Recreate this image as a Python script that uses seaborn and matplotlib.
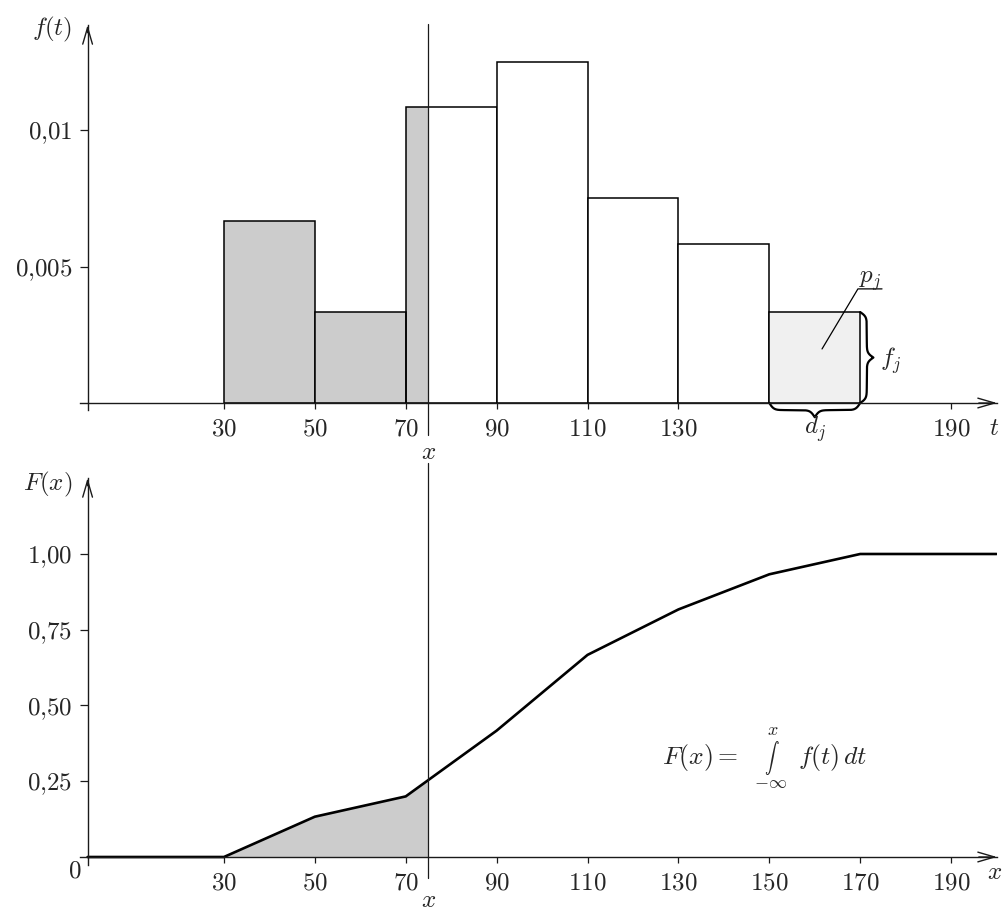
import numpy as np
import matplotlib
matplotlib.use("Agg")
import matplotlib.pyplot as plt
import seaborn as sns

# Class edges and density heights of the histogram (per unit of t)
edges = [30, 50, 70, 90, 110, 130, 150, 170]
density = [0.00667, 0.00333, 0.01083, 0.0125, 0.0075, 0.00583, 0.00333]

# Cumulative distribution F(x) at the class edges (polygon)
cdf_x = [0, 30, 50, 70, 90, 110, 130, 150, 170, 200]
cdf_y = [0, 0, 0.133, 0.2, 0.417, 0.667, 0.817, 0.933, 1.0, 1.0]

# Position of the moving bound x
x_mark = 75

top_xticks = [30, 50, 70, 90, 110, 130, 190]
bot_xticks = [30, 50, 70, 90, 110, 130, 150, 170, 190]
top_yticks = [0.005, 0.01]
top_ylabels = [r"$0{,}005$", r"$0{,}01$"]
bot_yticks = [0.25, 0.5, 0.75, 1.0]
bot_ylabels = [r"$0{,}25$", r"$0{,}50$", r"$0{,}75$", r"$1{,}00$"]

bar_faces = ["#cccccc", "#cccccc", "none", "white", "white", "white", "#f0f0f0"]
GRAY = "#cccccc"
INK = "#1a1a1a"

sns.set_style("white")
plt.rcParams["mathtext.fontset"] = "cm"
plt.rcParams["font.family"] = ["DejaVu Serif"]

W, H = 1004, 911
fig = plt.figure(figsize=(W / 100, H / 100), dpi=100)


def rect(left, top, right, bottom):
    return [left / W, 1 - bottom / H, (right - left) / W, (bottom - top) / H]


FS = 18


def style_axes(ax, xlim, ylim):
    ax.set_xlim(*xlim)
    ax.set_ylim(*ylim)
    ax.set_xlabel("")
    ax.set_ylabel("")
    for side in ("top", "right"):
        ax.spines[side].set_visible(False)
    ax.spines["left"].set_position(("data", 0))
    ax.spines["bottom"].set_position(("data", 0))
    for side in ("left", "bottom"):
        ax.spines[side].set_color(INK)
        ax.spines[side].set_linewidth(1.0)
    ax.tick_params(axis="x", bottom=True, direction="out", length=4.3,
                   width=0.9, color=INK, pad=6, labelsize=FS)
    ax.tick_params(axis="y", left=True, direction="out", length=5.8,
                   width=0.9, color=INK, pad=5, labelsize=FS)
    arrow = dict(arrowstyle="->, head_length=1.2, head_width=0.35",
                 lw=1.0, color=INK, mutation_scale=10, shrinkA=0, shrinkB=0)
    x0, x1 = xlim
    y0, y1 = ylim
    ax.annotate("", xy=(x1, 0), xytext=(x1 - 4, 0), arrowprops=arrow,
                annotation_clip=False)
    ax.annotate("", xy=(0, y1), xytext=(0, y1 - (y1 - y0) * 0.02),
                arrowprops=arrow, annotation_clip=False)


def brace(n=200, beta=40):
    u = np.linspace(0, 0.5, n)
    half = 1 / (1 + np.exp(-beta * (u - u[0]))) + 1 / (1 + np.exp(-beta * (u - u[-1])))
    full = np.concatenate([half, half[-2::-1]])
    amp = (full - full.min()) / (full.max() - full.min())
    s = np.linspace(0, 1, len(full))
    return s, amp


# ---------- density histogram ----------
ax1 = fig.add_axes(rect(80, 25, 997, 410))
mids = [(a + b) / 2 for a, b in zip(edges[:-1], edges[1:])]
h = np.array(density)
# shaded part of the class containing x
ax1.fill_between([edges[2], x_mark], 0, h[2], color=GRAY, lw=0, zorder=0.5)
sns.histplot(x=mids, weights=density, bins=edges, stat="count", ax=ax1,
             color="white", edgecolor="black", linewidth=1.1, alpha=1)
for patch, face in zip(ax1.patches, bar_faces):
    patch.set_facecolor(face)
    patch.set_edgecolor("black")
    patch.set_linewidth(1.1)

style_axes(ax1, (-1.67, 200.1), (-0.000256, 0.013846))
ax1.set_xticks(top_xticks, [rf"${v}$" for v in top_xticks])
ax1.set_yticks(top_yticks, top_ylabels)
ax1.axvline(x_mark, ymin=-0.065, ymax=1.003, clip_on=False, color=INK, lw=0.9)

ax1.text(-3.3, 0.0137, r"$f(t)$", fontsize=FS, ha="right", va="center")
ax1.text(199.5, -0.00092, r"$t$", fontsize=FS, ha="center", va="center")
ax1.text(x_mark, -0.0018, r"$x$", fontsize=FS, ha="center", va="center")

# braces marking the width d_j and height f_j of the last class
s, amp = brace()
a, b = edges[-2], edges[-1]
ax1.plot(a + s * (b - a), -amp * 0.00052, color="black", lw=1.6,
         clip_on=False, solid_capstyle="round")
ax1.plot(b + amp * 2.9, s * h[-1], color="black", lw=1.6,
         clip_on=False, solid_capstyle="round")
ax1.text((a + b) / 2, -0.00095, r"$d_j$", fontsize=FS, ha="center", va="center")
ax1.text(b + 4.3, h[-1] / 2 - 0.0001, r"$f_j$", fontsize=FS, ha="left", va="center")
ax1.plot([161.6, 169.5, 174.8], [0.00198, 0.00418, 0.00418], color="black",
         lw=0.9, clip_on=False)
ax1.text(172.2, 0.00448, r"$p_j$", fontsize=FS, ha="center", va="center")

# ---------- cumulative distribution ----------
ax2 = fig.add_axes(rect(80, 478, 997, 865))
xf = [edges[0], edges[1], edges[2], x_mark]
yf = np.interp(xf, cdf_x, cdf_y)
ax2.fill_between(xf, 0, yf, color=GRAY, lw=0, zorder=0.5)
sns.lineplot(x=cdf_x, y=cdf_y, ax=ax2, color="black", lw=1.9,
             solid_joinstyle="miter")

style_axes(ax2, (-1.67, 200.1), (-0.0264, 1.2508))
ax2.set_xticks(bot_xticks, [rf"${v}$" for v in bot_xticks])
ax2.set_yticks(bot_yticks, bot_ylabels)
ax2.axvline(x_mark, ymin=-0.034, ymax=1.039, clip_on=False, color=INK, lw=0.9)

ax2.text(-3.3, 1.23, r"$F(x)$", fontsize=FS, ha="right", va="center")
ax2.text(-2.8, -0.047, r"$0$", fontsize=FS, ha="center", va="center")
ax2.text(199.5, -0.05, r"$x$", fontsize=FS, ha="center", va="center")
ax2.text(x_mark, -0.145, r"$x$", fontsize=FS, ha="center", va="center")

# F(x) = integral from -inf to x of f(t) dt, limits set above and below
FF = 18.5
ax2.text(126.4, 0.327, r"$F(x) =$", fontsize=FF, ha="left", va="center")
ax2.text(150.6, 0.327, r"$\int$", fontsize=10.5, ha="center", va="center")
ax2.text(150.8, 0.418, r"$x$", fontsize=13, ha="center", va="center")
ax2.text(150.2, 0.244, r"$-\infty$", fontsize=13, ha="center", va="center")
ax2.text(156.3, 0.327, r"$f(t)\,dt$", fontsize=FF, ha="left", va="center")

fig.savefig("out.png", dpi=100, facecolor="white")
